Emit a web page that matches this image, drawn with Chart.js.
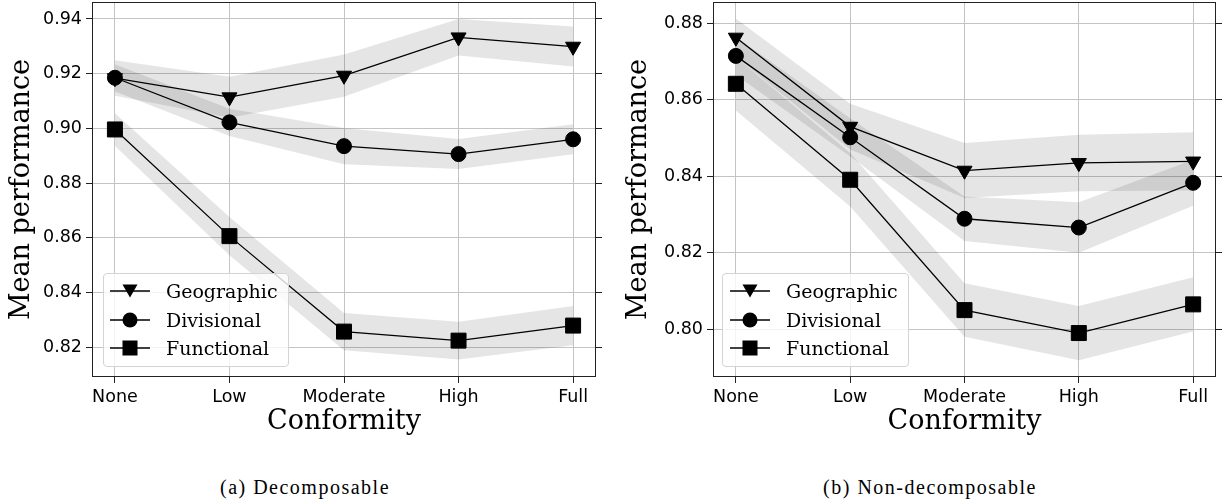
<!DOCTYPE html>
<html lang="en">
<head>
<meta charset="UTF-8">
<title>Mean performance by conformity</title>
<script src="https://cdn.jsdelivr.net/npm/chart.js"></script>
<style>
  body { margin: 0; background: #fff; width: 1228px; height: 501px; position: relative; overflow: hidden; }
  canvas { position: absolute; top: 0; }
  #leftChart { left: 0; }
  #rightChart { left: 614px; }
  .legend { position: absolute; top: 273px; height: 94px; background: rgba(255,255,255,0.8); border: 1px solid #d4d4d4; border-radius: 4px; box-sizing: border-box; font-family: 'DejaVu Serif', serif; font-size: 19px; color: #000; }
  .legend .row { position: absolute; height: 28px; display: flex; align-items: center; white-space: nowrap; }
  .caption { position: absolute; top: 476px; line-height: 23px; font-family: 'Liberation Serif', serif; font-size: 20px; letter-spacing: 1.5px; transform: translateX(-50%); white-space: nowrap; color: #000; }
</style>
</head>
<body>
<canvas id="leftChart" width="614" height="445"></canvas>
<canvas id="rightChart" width="614" height="445"></canvas>
<div class="legend" id="leftLegend" style="left:103px; width:186px;"></div>
<div class="legend" id="rightLegend" style="left:722px; width:187px;"></div>
<div class="caption" style="left:305px;">(a) Decomposable</div>
<div class="caption" style="left:930px;">(b) Non-decomposable</div>
<script>
// categories and series
const categories = ['None', 'Low', 'Moderate', 'High', 'Full'];
const seriesNames = ['Geographic', 'Divisional', 'Functional'];

// (a) decomposable - means and band half-widths
const decompGeographic = [0.9184, 0.9114, 0.9193, 0.9333, 0.9299];
const decompDivisional = [0.9185, 0.9022, 0.8935, 0.8906, 0.8960];
const decompFunctional = [0.8996, 0.8606, 0.8257, 0.8224, 0.8279];
const decompGeographicErr = [0.0065, 0.0075, 0.0077, 0.0067, 0.0073];
const decompDivisionalErr = [0.0050, 0.0050, 0.0066, 0.0055, 0.0055];
const decompFunctionalErr = [0.0060, 0.0070, 0.0068, 0.0069, 0.0072];
const decompYTicks = [0.82, 0.84, 0.86, 0.88, 0.90, 0.92, 0.94];

// (b) non-decomposable
const nonGeographic = [0.8763, 0.8530, 0.8415, 0.8435, 0.8439];
const nonDivisional = [0.8715, 0.8502, 0.8289, 0.8266, 0.8383];
const nonFunctional = [0.8642, 0.8391, 0.8050, 0.7990, 0.8065];
const nonGeographicErr = [0.0050, 0.0060, 0.0072, 0.0074, 0.0076];
const nonDivisionalErr = [0.0050, 0.0050, 0.0058, 0.0066, 0.0060];
const nonFunctionalErr = [0.0070, 0.0070, 0.0070, 0.0071, 0.0071];
const nonYTicks = [0.80, 0.82, 0.84, 0.86, 0.88];

const markerStyles = [
    { pointStyle: 'triangle', pointRadius: 8.7, pointRotation: 180 },
    { pointStyle: 'circle', pointRadius: 7.5, pointRotation: 0 },
    { pointStyle: 'rect', pointRadius: 10.6, pointRotation: 0 }
];

// draw the full frame round the plot area (matplotlib spines)
const framePlugin = {
    id: 'frame',
    afterDatasetsDraw(chart) {
        const { ctx, chartArea: a } = chart;
        ctx.save();
        ctx.strokeStyle = '#222';
        ctx.lineWidth = 1;
        ctx.strokeRect(Math.round(a.left) + 0.5, Math.round(a.top) + 0.5,
            Math.round(a.right - a.left) - 1, Math.round(a.bottom - a.top) - 1);
        ctx.restore();
    }
};

function buildDatasets(values, errs) {
    const sets = [];
    values.forEach((vals, s) => {
        sets.push({
            data: vals.map((v, i) => ({ x: i, y: v + errs[s][i] })),
            borderWidth: 0, pointRadius: 0, fill: false, order: 10
        });
        sets.push({
            data: vals.map((v, i) => ({ x: i, y: v - errs[s][i] })),
            borderWidth: 0, pointRadius: 0, fill: '-1',
            backgroundColor: 'rgba(0,0,0,0.1)', order: 10
        });
    });
    values.forEach((vals, s) => {
        sets.push(Object.assign({
            label: seriesNames[s],
            data: vals.map((v, i) => ({ x: i, y: v })),
            borderColor: '#000', borderWidth: 1.3,
            pointBackgroundColor: '#000', pointBorderColor: '#000', pointBorderWidth: 1,
            fill: false, tension: 0, order: 0, clip: false
        }, markerStyles[s]));
    });
    return sets;
}

function makeChart(id, values, errs, yMin, yMax, yTicks, leftW, rightW, yTitlePad) {
    const tickFont = { family: 'DejaVu Sans', size: 17.5 };
    const gridColor = '#c4c4c4';
    new Chart(document.getElementById(id), {
        type: 'line',
        data: { datasets: buildDatasets(values, errs) },
        options: {
            responsive: false,
            animation: false,
            events: [],
            layout: { autoPadding: false, padding: { top: 2, left: 0, right: 0, bottom: 0 } },
            plugins: { legend: { display: false }, tooltip: { enabled: false } },
            scales: {
                x: {
                    type: 'linear', min: -0.2, max: 4.2,
                    afterBuildTicks: s => { s.ticks = categories.map((c, i) => ({ value: i })); },
                    afterFit: s => { s.height = 68; s.paddingLeft = 0; s.paddingRight = 0; },
                    ticks: { callback: v => categories[v], font: tickFont, color: '#000', padding: 4, maxRotation: 0, autoSkip: false },
                    grid: { color: gridColor, lineWidth: 1, tickLength: 6, tickColor: '#222' },
                    border: { display: false },
                    title: { display: true, text: 'Conformity', color: '#000',
                        font: { family: 'DejaVu Serif', size: 27 }, padding: { top: 0, bottom: 6.8 } }
                },
                y: {
                    type: 'linear', position: 'left', min: yMin, max: yMax,
                    afterBuildTicks: s => { s.ticks = yTicks.map(v => ({ value: v })); },
                    afterFit: s => { s.width = leftW; s.paddingTop = 0; s.paddingBottom = 0; },
                    ticks: { callback: v => v.toFixed(2), font: tickFont, color: '#000', padding: 4 },
                    grid: { color: gridColor, lineWidth: 1, tickLength: 6, tickColor: '#222' },
                    border: { display: false },
                    title: { display: true, text: 'Mean performance', color: '#000',
                        font: { family: 'DejaVu Serif', size: 27 }, padding: { top: yTitlePad, bottom: 0 } }
                },
                y2: {
                    type: 'linear', position: 'right', min: yMin, max: yMax,
                    afterBuildTicks: s => { s.ticks = yTicks.map(v => ({ value: v })); },
                    afterFit: s => { s.width = rightW; s.paddingTop = 0; s.paddingBottom = 0; },
                    ticks: { display: false },
                    grid: { drawOnChartArea: false, tickLength: 6, tickColor: '#222', color: '#222' },
                    border: { display: false }
                }
            }
        },
        plugins: [framePlugin]
    });
}

function buildLegend(id, lineLeft, textGap) {
    const box = document.getElementById(id);
    const rowCenters = [17, 46, 74];
    seriesNames.forEach((name, s) => {
        let marker;
        if (s === 0) marker = '<polygon points="12.5,7.5 27.5,7.5 20,20.5" fill="#000"/>';
        else if (s === 1) marker = '<circle cx="20" cy="14" r="7.5" fill="#000"/>';
        else marker = '<rect x="12.5" y="6.5" width="15" height="15" fill="#000"/>';
        const row = document.createElement('div');
        row.className = 'row';
        row.style.left = lineLeft + 'px';
        row.style.top = (rowCenters[s] - 14) + 'px';
        row.innerHTML = '<svg width="40" height="28" style="margin-right:' + textGap + 'px">' +
            '<line x1="0" y1="14" x2="40" y2="14" stroke="#000" stroke-width="1.3"/>' + marker + '</svg>' +
            '<span>' + name + '</span>';
        box.appendChild(row);
    });
}

makeChart('leftChart',
    [decompGeographic, decompDivisional, decompFunctional],
    [decompGeographicErr, decompDivisionalErr, decompFunctionalErr],
    0.8091, 0.9462, decompYTicks, 92, 18, 5.8);
makeChart('rightChart',
    [nonGeographic, nonDivisional, nonFunctional],
    [nonGeographicErr, nonDivisionalErr, nonFunctionalErr],
    0.7875, 0.8856, nonYTicks, 99, 12, 8.8);
buildLegend('leftLegend', 6, 16);
buildLegend('rightLegend', 7, 16);
</script>
</body>
</html>
